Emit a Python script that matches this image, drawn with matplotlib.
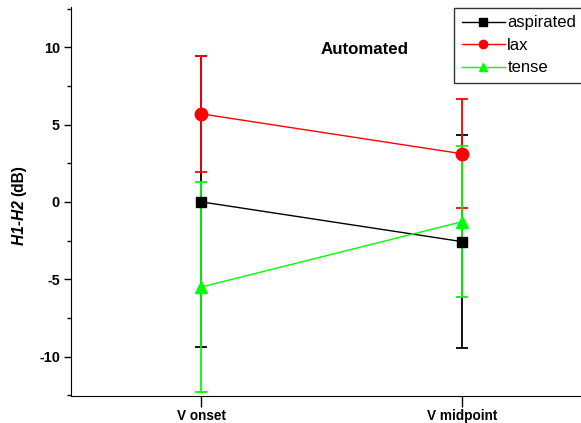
import matplotlib.pyplot as plt
from matplotlib.lines import Line2D

plt.rcParams['font.family'] = ['Liberation Sans', 'DejaVu Sans']
plt.rcParams['axes.unicode_minus'] = False

categorias = ['V onset', 'V midpoint']
aspirated = [0.0, -2.57]
aspirated_err = [9.4, 6.9]
lax = [5.69, 3.11]
lax_err = [3.73, 3.52]
tense = [-5.5, -1.28]
tense_err = [6.8, 4.9]

W, H = 581, 423
fig = plt.figure(figsize=(W/100, H/100), dpi=100)
# el eje se sale por la derecha como en el original
ax = fig.add_axes([71/W, 1 - 396/H, (592.5 - 71)/W, (396 - 7)/H])

x = [1, 2]
series = [
    (aspirated, aspirated_err, 'black', 's', 7.5, 'aspirated'),
    (lax, lax_err, 'red', 'o', 9, 'lax'),
    (tense, tense_err, '#00ff00', '^', 9, 'tense'),
]
manejadores = []
for vals, err, col, mk, ms, lab in series:
    ax.errorbar(x, vals, yerr=err, color=col, marker=mk, markersize=ms,
                linewidth=1, elinewidth=1.3, capsize=4, capthick=1.3)
    manejadores.append(Line2D([], [], color=col, marker=mk, markersize=6,
                              linewidth=1, label=lab))

ax.set_xlim(0.5, 2.5)
ax.set_ylim(-12.55, 12.6)
ax.set_xticks(x)
ax.set_xticklabels(categorias, fontweight='bold', fontsize=9.8)
ax.set_yticks([-10, -5, 0, 5, 10])
ax.set_yticks([-7.5, -2.5, 2.5, 7.5, -12.5, 12.5], minor=True)
for lbl in ax.get_yticklabels():
    lbl.set_fontweight('bold')
    lbl.set_fontsize(10.4)
ax.tick_params(axis='y', which='major', length=5, width=1, direction='out', pad=3)
ax.tick_params(axis='y', which='minor', length=3, width=1, direction='out')
ax.tick_params(axis='x', which='major', length=8, width=1, direction='out', pad=1.5)
ax.spines['top'].set_visible(False)
ax.spines['right'].set_visible(False)

fig.text(365/W, 1 - 50/H, 'Automated', ha='center', va='center',
         fontweight='bold', fontsize=12.2)

# etiqueta del eje y: parte en cursiva y parte normal
renderer = fig.canvas.get_renderer()
t1 = fig.text(19/W, 0.5, 'H1-H2 ', rotation=90, ha='center', va='bottom',
              fontweight='bold', fontstyle='italic', fontsize=11.2)
t2 = fig.text(19/W, 0.5, '(dB)', rotation=90, ha='center', va='bottom',
              fontweight='bold', fontsize=11.2)
h1 = t1.get_window_extent(renderer).height
h2 = t2.get_window_extent(renderer).height
centro = H - 205
inicio = centro - (h1 + h2) / 2
t1.set_y(inicio / H)
t2.set_y((inicio + h1) / H)

leg = ax.legend(handles=manejadores, loc='upper left',
                bbox_to_anchor=(454/W, 1 - 8/H),
                bbox_transform=fig.transFigure, borderaxespad=0, fancybox=False,
                edgecolor='black', fontsize=12, handlelength=2.6,
                labelspacing=0.45, borderpad=0.45, handletextpad=0.15)
leg.get_frame().set_linewidth(1)

fig.savefig('out.png', dpi=100)
